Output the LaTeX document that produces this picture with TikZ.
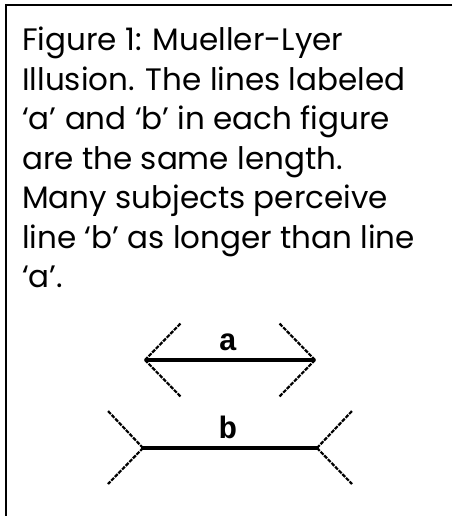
\documentclass[tikz,border=0pt]{standalone}
\usepackage{fontspec}
\setmainfont{Poppins}
\newfontfamily\figlabelfont{Liberation Mono}
\usepackage{tikz}
\tikzset{
  frame line/.style={line width=2.4pt, draw=black},
  test line/.style={line width=3.8pt, draw=black},
  fin/.style={line width=2.2pt, draw=black, dash pattern=on 4pt off 1.2pt},
  caption text/.style={anchor=north west, inner sep=0pt, align=left,
    font=\fontsize{31}{39.5}\selectfont},
  line label/.style={inner sep=0pt, font=\fontsize{31}{31}\selectfont\figlabelfont\bfseries}
}
\begin{document}
\begin{tikzpicture}[x=1pt, y=-1pt]
  \useasboundingbox (0,0) rectangle (452,516);
  % cropped frame: only top and left edges are visible
  \coordinate (ftl) at (6,5);
  \coordinate (ftr) at (452,5);
  \coordinate (fbl) at (6,516);
  \draw[frame line] (ftr) -- (ftl) -- (fbl);

  \node[caption text] (caption) at (22,27)
    {Figure 1: Mueller-Lyer\\
     Illusion. The lines labeled\\
     ‘a’ and ‘b’ in each figure\\
     are the same length.\\
     Many subjects perceive\\
     line ‘b’ as longer than line\\
     ‘a’.};

  % line a, fins pointing inward
  \coordinate (al) at (145,360);
  \coordinate (ar) at (315,360);
  \coordinate (alt) at (181,323);
  \coordinate (alb) at (181,397);
  \coordinate (art) at (279,323);
  \coordinate (arb) at (279,397);
  \draw[test line] (al) -- (ar);
  \draw[fin] (al) -- (alt); \draw[fin] (al) -- (alb);
  \draw[fin] (ar) -- (art); \draw[fin] (ar) -- (arb);
  \node[line label, anchor=base] (la) at (228,350) {a};

  % line b, fins pointing outward
  \coordinate (bl) at (143,448);
  \coordinate (br) at (317,448);
  \coordinate (blt) at (108,411);
  \coordinate (blb) at (108,484);
  \coordinate (brt) at (352,411);
  \coordinate (brb) at (352,484);
  \draw[test line] (bl) -- (br);
  \draw[fin] (bl) -- (blt); \draw[fin] (bl) -- (blb);
  \draw[fin] (br) -- (brt); \draw[fin] (br) -- (brb);
  \node[line label, anchor=base] (lb) at (228,438) {b};
\end{tikzpicture}
\end{document}
